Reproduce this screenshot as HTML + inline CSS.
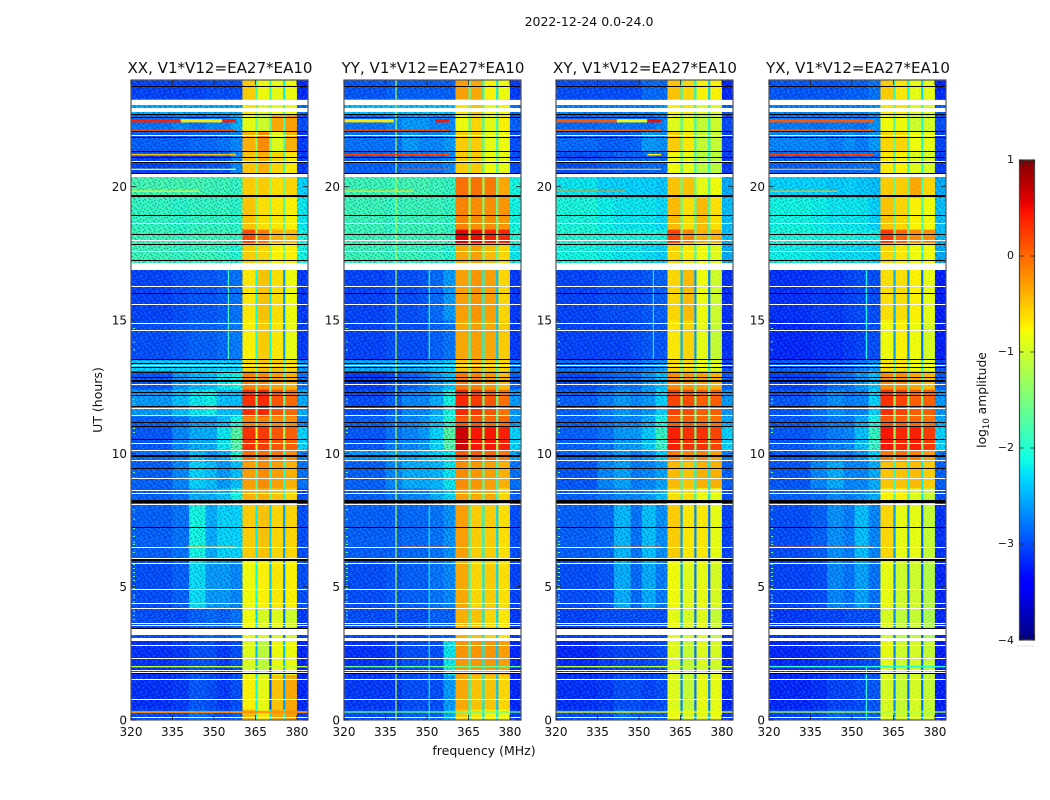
<!DOCTYPE html>
<html>
<head>
<meta charset="utf-8">
<title>2022-12-24 0.0-24.0</title>
<style>
html,body{margin:0;padding:0;background:#fff;}
svg{display:block;}
text{font-family:"DejaVu Sans","Liberation Sans",sans-serif;fill:#111;}
</style>
</head>
<body>
<svg id="fig" xmlns="http://www.w3.org/2000/svg" width="1050" height="800" viewBox="0 0 1050 800">
<defs>
<pattern id="speckle" width="11" height="11" patternUnits="userSpaceOnUse" patternTransform="scale(1.4)">
<path fill="#00004a" opacity=".38" d="M0 0h1v1h-1zM3 0h1v1h-1zM7 1h1v1h-1zM9 1h1v1h-1zM1 2h1v1h-1zM5 2h1v1h-1zM10 3h1v1h-1zM3 3h1v1h-1zM6 4h1v1h-1zM0 4h1v1h-1zM8 5h1v1h-1zM2 5h1v1h-1zM4 6h1v1h-1zM9 6h1v1h-1zM1 7h1v1h-1zM6 7h1v1h-1zM3 8h1v1h-1zM10 8h1v1h-1zM7 9h1v1h-1zM0 9h1v1h-1zM4 10h1v1h-1zM8 10h1v1h-1z"/>
<path fill="#40b0ff" opacity=".32" d="M1 0h1v1h-1zM5 0h1v1h-1zM9 0h1v1h-1zM3 1h1v1h-1zM7 3h1v1h-1zM0 2h1v1h-1zM8 2h1v1h-1zM4 3h1v1h-1zM2 4h1v1h-1zM9 4h1v1h-1zM5 5h1v1h-1zM0 6h1v1h-1zM7 6h1v1h-1zM3 7h1v1h-1zM10 6h1v1h-1zM8 8h1v1h-1zM1 9h1v1h-1zM5 9h1v1h-1zM2 10h1v1h-1zM10 10h1v1h-1z"/>
</pattern>
<linearGradient id="jetGrad" x1="0" y1="1" x2="0" y2="0"></linearGradient>
</defs>
<text x="589" y="26" font-size="12.5" text-anchor="middle">2022-12-24 0.0-24.0</text>
<text x="484" y="755" font-size="12.5" text-anchor="middle">frequency (MHz)</text>
<text x="0" y="0" font-size="12.5" text-anchor="middle" transform="translate(102,400) rotate(-90)">UT (hours)</text>
<g id="panels"></g>
<g id="cbar"></g>
</svg>
<script>
// ---- axis data ----
const panelTitles = ["XX, V1*V12=EA27*EA10","YY, V1*V12=EA27*EA10","XY, V1*V12=EA27*EA10","YX, V1*V12=EA27*EA10"];
const freqTicks = [320,335,350,365,380];
const hourTicks = [0,5,10,15,20];
const colorTicks = [1,0,-1,-2,-3,-4];
const freqEdges = [320,335,341,347,351,356,360.3,365,365.8,370,370.8,375,375.8,380,384];
const hourEdges = [0,.4,1.7,3,4.2,6,8.1,8.7,9.7,10.1,11,11.4,12.4,13.1,13.5,15,16.9,17.9,18.4,19.6,20.4,21.3,22.1,22.7,23.3,24];

// ---- log10 amplitude per time band (rows) and frequency band (columns) ----
const ampXX = [
[-3,-3,-2.8,-2.9,-3,-2.9,-.45,-1.9,-.7,-2.2,-.35,-2,-.3,-3.1],
[-3.15,-3.1,-2.95,-3,-3.1,-3,-.75,-2.1,-.85,-3,-.5,-2.6,-.35,-3.2],
[-3.15,-3.1,-3,-3,-3.1,-3,-.9,-2.4,-1.1,-3,-.8,-2.4,-.8,-3.2],
[-3,-3,-2.9,-2.85,-2.9,-2.8,-.8,-2.3,-.95,-2.8,-.9,-2.8,-1,-3.1],
[-3,-2.9,-2.25,-2.6,-2.6,-2.7,-.8,-2.1,-.75,-2.4,-.7,-2.7,-.75,-3],
[-2.9,-2.8,-2.1,-2.5,-2.3,-2.3,-.55,-2.2,-.5,-2.3,-.6,-2.6,-.6,-3],
[-2.9,-2.8,-2.5,-2.5,-2.4,-2.1,-.4,-1.5,-.4,-1.6,-.5,-2,-.6,-3],
[-2.9,-2.7,-2.3,-2.4,-2.6,-2.4,-.3,-1.7,-.2,-2,-.3,-2,-.4,-2.8],
[-2.8,-2.7,-2.4,-2.6,-2.5,-2,-.05,-1.7,-.05,-1.8,-.1,-2,-.2,-2.7],
[-2.95,-2.7,-2.5,-2.5,-2.2,-1.7,.3,-1,.25,-1.5,.1,-1.3,.05,-2.3],
[-2.9,-2.8,-2.6,-2.6,-2.4,-2.1,-.15,-1.5,-.15,-1.7,-.2,-1.8,-.2,-2.7],
[-2.6,-2.4,-2.2,-2.15,-2.4,-2.4,.3,-1.5,.35,-1.6,.1,-1.7,0,-2.5],
[-2.95,-2.6,-2.45,-2.4,-2.2,-2.1,-.15,-1.6,-.2,-1.8,-.3,-1.9,-.4,-2.8],
[-2.3,-2.3,-2.3,-2.3,-2.3,-2.3,-.6,-1.6,-.5,-1.6,-.5,-1.8,-.6,-2.6],
[-3,-2.95,-2.9,-2.9,-2.85,-2.75,-.75,-2,-.55,-2.1,-.7,-2.6,-.85,-3.1],
[-3.05,-3,-2.95,-2.95,-2.9,-2.8,-.7,-2.1,-.5,-2.2,-.65,-2.6,-.8,-3.1],
[-1.85,-1.9,-1.85,-1.85,-1.9,-2,-.55,-1.5,-.6,-1.5,-.75,-1.6,-.75,-2.1],
[-1.85,-1.9,-1.85,-1.85,-1.85,-1.9,.15,-1.2,-.1,-1.3,-.4,-1.5,-.45,-2.1],
[-1.9,-1.95,-1.9,-1.9,-1.9,-1.95,-.5,-1.4,-.65,-1.5,-.7,-1.7,-.75,-2.2],
[-1.8,-1.8,-1.8,-1.85,-1.85,-1.9,-.55,-1.3,-.55,-1.4,-.65,-1.6,-.6,-2.3],
[-3.05,-3,-3,-2.95,-2.95,-2.7,-.5,-1.5,-.4,-1.6,-.6,-1.8,-.7,-3.1],
[-2.9,-2.9,-2.85,-2.85,-2.8,-2.7,-.4,-1.3,-.2,-1.5,-.9,-1.8,-.4,-3.1],
[-2.8,-2.7,-2.8,-2.7,-2.7,-2.5,-.85,-1.6,-1,-1.7,-.35,-1.8,-.3,-3],
[-2.5,-2.5,-2.5,-2.5,-2.5,-2.5,-.7,-1.5,-.9,-1.6,-.8,-1.8,-.8,-2.8],
[-3.05,-3.05,-3.05,-3,-3,-3,-.55,-1.8,-.8,-1.9,-.85,-2.2,-.8,-3.2]
];
const ampYY = [
[-3,-3,-2.9,-2.9,-2.9,-2.5,-.55,-2,-.7,-2.2,-.75,-2.2,-.8,-3.1],
[-3.1,-3.1,-3,-3,-3,-2.6,-.35,-2,-.5,-2.2,-.5,-2.4,-.6,-3.2],
[-3.15,-3.1,-3,-3,-3,-2.2,-.25,-2,-.25,-2.2,-.25,-2.4,-.3,-3.2],
[-3,-3,-3,-3,-2.9,-2.9,-.4,-2,-.5,-2.2,-.6,-2.3,-.7,-3.1],
[-3,-2.95,-2.9,-2.9,-2.8,-2.7,-.35,-1.9,-.6,-2.2,-.55,-2.3,-.65,-3.05],
[-2.9,-2.9,-2.85,-2.85,-2.8,-2.65,-.3,-1.9,-.55,-2.1,-.55,-2.3,-.65,-3],
[-2.9,-2.8,-2.7,-2.7,-2.5,-2.3,-.3,-1.6,-.35,-1.7,-.35,-2,-.6,-2.9],
[-2.9,-2.7,-2.5,-2.5,-2.45,-2.2,-.2,-1.6,-.25,-1.7,-.3,-1.9,-.4,-2.8],
[-2.6,-2.5,-2.5,-2.4,-2.3,-2.2,.05,-1.5,.05,-1.6,0,-1.7,-.1,-2.5],
[-2.95,-2.8,-2.7,-2.6,-2.3,-1.7,.65,-1.1,.45,-1.3,.45,-1.3,.4,-2.3],
[-2.9,-2.8,-2.7,-2.6,-2.4,-2,.1,-1.5,.1,-1.6,0,-1.7,0,-2.6],
[-3,-2.9,-2.7,-2.7,-2.5,-2.1,.35,-1.3,.25,-1.5,.1,-1.6,-.05,-2.6],
[-3.1,-3,-2.9,-2.8,-2.6,-2.4,-.1,-1.6,-.15,-1.7,-.25,-1.9,-.45,-2.9],
[-2.5,-2.5,-2.5,-2.5,-2.4,-2.3,-.5,-1.5,-.4,-1.6,-.5,-1.8,-.6,-2.7],
[-3.05,-3,-3,-3,-2.9,-2.8,-.35,-1.9,-.3,-2.1,-.35,-2.4,-.55,-3.1],
[-3.05,-3,-3,-2.95,-2.85,-2.6,-.3,-1.9,-.25,-2.1,-.3,-2.4,-.6,-3.1],
[-1.85,-1.9,-1.85,-1.9,-1.9,-2,-.35,-1.5,-.3,-1.5,-.45,-1.7,-.6,-2.2],
[-1.85,-1.9,-1.85,-1.85,-1.85,-1.9,.55,-1.1,.5,-1.2,.4,-1.4,.35,-2],
[-1.85,-1.9,-1.85,-1.85,-1.85,-1.9,-.15,-1.3,-.2,-1.4,-.2,-1.6,-.25,-2.1],
[-1.85,-1.85,-1.8,-1.8,-1.85,-1.9,-.05,-1.3,-.05,-1.3,-.1,-1.6,-.35,-2.1],
[-2.9,-2.9,-2.8,-2.8,-2.8,-2.7,-.55,-1.5,-.55,-1.6,-.8,-1.8,-.85,-3],
[-2.8,-2.8,-2.6,-2.7,-2.7,-2.6,-.55,-1.5,-.55,-1.7,-.85,-1.9,-.8,-3],
[-2.8,-2.7,-2.6,-2.6,-2.7,-2.7,-.8,-1.7,-.6,-1.8,-.85,-1.9,-.75,-2.9],
[-2.4,-2.4,-2.4,-2.4,-2.4,-2.4,-.7,-1.6,-.5,-1.6,-.8,-1.8,-.8,-2.8],
[-2.95,-2.9,-2.9,-2.9,-2.9,-2.9,-.3,-1.7,-.35,-1.9,-.75,-2.2,-.8,-3.1]
];
const ampXY = [
[-3,-3,-2.8,-2.9,-2.9,-2.9,-.85,-2.6,-.95,-2.6,-.9,-2.5,-.85,-3.1],
[-3.15,-3.1,-3,-3,-3.05,-3,-.9,-2.7,-1.05,-2.8,-.85,-2.7,-.85,-3.2],
[-3.2,-3.1,-3.05,-3.05,-3.05,-3,-.9,-2.7,-1.05,-2.8,-.9,-2.9,-.95,-3.2],
[-3.05,-3,-3,-3,-3,-3,-.85,-2.5,-.95,-2.8,-.9,-2.9,-1.05,-3.1],
[-3,-2.95,-2.5,-2.85,-2.5,-2.75,-.8,-2.6,-.9,-2.8,-.85,-2.9,-.95,-3.1],
[-2.9,-2.85,-2.45,-2.8,-2.4,-2.65,-.55,-2.6,-.7,-2.7,-.7,-2.8,-.85,-3.05],
[-2.9,-2.8,-2.7,-2.7,-2.6,-2.4,-.65,-1.8,-.65,-1.9,-.8,-2.2,-.85,-3],
[-2.95,-2.7,-2.55,-2.75,-2.7,-2.55,-.45,-1.9,-.5,-2.1,-.4,-2.2,-.4,-2.9],
[-2.85,-2.75,-2.6,-2.75,-2.6,-2.3,-.1,-1.6,-.15,-1.8,-.15,-1.9,-.3,-2.7],
[-2.9,-2.8,-2.6,-2.6,-2.35,-1.9,.4,-1.3,.3,-1.5,.3,-1.5,.2,-2.3],
[-2.9,-2.8,-2.7,-2.7,-2.5,-2.1,.05,-1.5,.05,-1.6,0,-1.7,-.05,-2.5],
[-2.9,-2.75,-2.6,-2.7,-2.6,-2.3,.2,-1.4,.15,-1.5,.05,-1.6,.05,-2.6],
[-3,-2.9,-2.8,-2.8,-2.6,-2.4,-.2,-1.6,-.25,-1.8,-.3,-1.9,-.4,-2.9],
[-2.8,-2.8,-2.8,-2.8,-2.7,-2.6,-.6,-1.7,-.6,-1.8,-.8,-2,-.9,-3],
[-3.05,-3.05,-3.05,-3,-2.95,-2.95,-.7,-2.5,-.6,-2.6,-.85,-2.8,-1.05,-3.15],
[-3.05,-3,-3,-3,-2.95,-2.9,-.6,-2.4,-.45,-2.6,-.8,-2.7,-1,-3.15],
[-2.1,-2.15,-2.2,-2.2,-2.25,-2.3,-.6,-1.7,-.7,-1.8,-.8,-2,-.9,-2.5],
[-2,-2.05,-2.05,-2.05,-2.1,-2.1,.2,-1.5,-.15,-1.6,-.4,-1.7,-.4,-2.4],
[-2.05,-2.15,-2.2,-2.2,-2.2,-2.25,-.45,-1.6,-.65,-1.7,-.45,-1.8,-.65,-2.4],
[-2.2,-2.3,-2.3,-2.3,-2.3,-2.35,-.5,-1.6,-.5,-1.6,-.85,-1.8,-.8,-2.5],
[-3,-2.95,-2.9,-2.9,-2.85,-2.85,-.8,-1.8,-.85,-1.9,-1.1,-2,-1.1,-3.1],
[-2.85,-2.9,-2.9,-2.85,-2.6,-2.65,-.55,-1.6,-.7,-1.8,-1.05,-2,-1.05,-3.05],
[-2.85,-2.8,-2.8,-2.8,-2.8,-2.7,-.9,-1.8,-.85,-1.9,-1.05,-2,-1,-3],
[-2.7,-2.7,-2.7,-2.7,-2.7,-2.6,-.75,-1.7,-.7,-1.8,-.9,-2,-.9,-2.9],
[-3,-3,-3,-3,-2.85,-2.85,-.5,-1.9,-.6,-2.1,-.75,-2.3,-.75,-3.2]
];
const ampYX = [
[-3.05,-3,-2.85,-2.9,-2.9,-2.9,-.95,-2.6,-1,-2.7,-.95,-2.6,-1.05,-3.2],
[-3.2,-3.15,-3.05,-3.05,-3,-2.95,-.95,-2.7,-1.05,-2.8,-.95,-2.8,-1.05,-3.25],
[-3.2,-3.15,-3.1,-3.1,-3.05,-3,-.85,-2.7,-1,-2.8,-.95,-2.8,-1.05,-3.25],
[-3.1,-3.05,-3.05,-3,-3,-3,-.95,-2.7,-1.1,-2.8,-1.05,-2.9,-1.2,-3.2],
[-3.05,-3,-2.7,-2.8,-2.55,-2.8,-.85,-2.7,-1,-2.8,-1,-2.9,-1.15,-3.2],
[-3,-2.9,-2.65,-2.75,-2.4,-2.7,-.6,-2.6,-.85,-2.7,-.85,-2.9,-1.05,-3.15],
[-2.9,-2.85,-2.7,-2.75,-2.65,-2.5,-.75,-1.8,-.75,-1.9,-.9,-2.2,-1.05,-3],
[-2.95,-2.7,-2.5,-2.7,-2.7,-2.5,-.5,-1.9,-.5,-2.1,-.45,-2.2,-.55,-2.9],
[-2.9,-2.8,-2.7,-2.75,-2.6,-2.3,-.1,-1.6,-.05,-1.8,-.15,-1.9,-.3,-2.7],
[-2.95,-2.85,-2.75,-2.7,-2.4,-1.9,.45,-1.3,.35,-1.5,.4,-1.5,.25,-2.3],
[-2.95,-2.85,-2.75,-2.75,-2.5,-2.1,.1,-1.5,.05,-1.6,0,-1.7,-.05,-2.5],
[-2.95,-2.8,-2.65,-2.75,-2.7,-2.3,.3,-1.3,.2,-1.5,.05,-1.6,.05,-2.6],
[-3.05,-3,-2.85,-2.8,-2.6,-2.4,-.2,-1.6,-.2,-1.8,-.35,-1.9,-.45,-2.9],
[-2.9,-2.9,-2.9,-2.85,-2.75,-2.6,-.65,-1.7,-.65,-1.8,-.8,-2,-.85,-3],
[-3.2,-3.15,-3.15,-3.1,-3.05,-3,-.8,-2.6,-.75,-2.7,-.8,-2.8,-.95,-3.25],
[-3.15,-3.1,-3.1,-3.05,-3,-3,-.65,-2.5,-.65,-2.6,-.75,-2.8,-.85,-3.25],
[-2.15,-2.2,-2.25,-2.25,-2.25,-2.3,-.6,-1.7,-.7,-1.8,-.8,-2,-.8,-2.5],
[-2.05,-2.1,-2.1,-2.1,-2.15,-2.15,.25,-1.5,0,-1.6,-.2,-1.7,-.2,-2.4],
[-2.1,-2.15,-2.2,-2.2,-2.2,-2.3,-.5,-1.6,-.6,-1.7,-.75,-1.8,-.8,-2.4],
[-2.3,-2.3,-2.35,-2.3,-2.35,-2.4,-.55,-1.6,-.55,-1.6,-.35,-1.8,-.6,-2.5],
[-2.9,-2.9,-2.85,-2.85,-2.8,-2.8,-.7,-1.8,-.75,-1.9,-.9,-2,-.95,-3.1],
[-2.7,-2.7,-2.75,-2.65,-2.75,-2.6,-.6,-1.6,-.6,-1.8,-.8,-2,-.85,-3.05],
[-2.75,-2.8,-2.75,-2.75,-2.8,-2.65,-.8,-1.7,-.8,-1.9,-1,-2,-.95,-3],
[-2.7,-2.7,-2.7,-2.7,-2.7,-2.6,-.7,-1.7,-.7,-1.8,-.9,-2,-.9,-2.9],
[-2.95,-2.95,-2.95,-2.9,-2.9,-2.8,-.55,-1.9,-.7,-2.1,-.85,-2.3,-.85,-3.2]
];
const amplitudes = [ampXX, ampYY, ampXY, ampYX];

// ---- flagged time rows: hour, thickness in hours ----
const whiteRows = [[23.16,.19],[22.88,.15],[21.9,.04],[20.94,.04],[20.42,.1],[18.6,.04],[17.97,.04],[17.55,.04],[17,.25],[16.26,.04],[15.59,.04],[14.87,.04],[14.61,.04],[13.28,.04],[13.02,.04],[12.59,.04],[11.69,.04],[11.4,.04],[10.35,.04],[10.1,.04],[9.72,.04],[9.05,.04],[8.6,.04],[8.5,.04],[8.09,.04],[6.48,.04],[6.06,.04],[5.88,.04],[4.88,.04],[4.38,.04],[4.17,.04],[3.63,.04],[3.53,.04],[3.3,.21],[3.01,.1],[2.78,.04],[2.31,.04],[1.85,.04],[1.77,.04],[1.53,.04],[.78,.04],[.1,.04]];
const blackRows = [[22.7,.04],[22.59,.04],[22.05,.04],[21.85,.04],[21.33,.04],[21.1,.04],[20.91,.04],[20.5,.04],[19.66,.08],[18.9,.04],[18.21,.04],[17.82,.04],[17.22,.04],[16,.04],[13.53,.04],[13.38,.04],[13.22,.04],[13.02,.04],[12.86,.04],[12.72,.08],[12.27,.04],[12.15,.04],[11.77,.04],[11.15,.04],[11,.04],[10.53,.04],[9.91,.08],[9.44,.04],[8.19,.12],[7.23,.04],[6,.08],[3.44,.04],[1.73,.04],[23.75,.04]];

// ---- narrow-band interference: hour, thickness, start MHz, end MHz, log10 amplitude ----
const rfiXX = [[22.47,.12,320,338,.4],[22.47,.12,338,353,-.7],[22.47,.12,353,358,.45],[22.11,.06,320,358,.2],[21.2,.06,320,358,-.5],[20.65,.05,320,358,-.9],[19.83,.05,320,345,-.9],[8.6,.05,353,358,.4],[6.48,.05,340,358,-.4],[2,.05,320,384,-1.1],[.3,.07,320,384,-.2]];
const rfiYY = [[22.47,.12,320,338,-.7],[22.47,.12,353,358,.45],[22.11,.06,320,358,.2],[21.2,.06,320,358,.2],[20.65,.05,340,358,.2],[19.83,.05,320,345,-.6],[6.48,.05,340,358,.1],[2,.05,320,384,-1.6],[.3,.05,320,384,-1.6]];
const rfiXY = [[22.47,.12,320,342,.1],[22.47,.12,342,353,-.8],[22.47,.12,353,358,.5],[22.11,.06,320,358,.1],[21.2,.06,353,358,-.7],[20.65,.05,320,358,-.4],[19.83,.05,320,345,-.2],[6.48,.05,340,358,.1],[2,.05,320,384,-1.1],[.3,.05,320,384,-.8]];
const rfiYX = [[22.47,.12,320,358,.1],[22.11,.06,320,358,.05],[21.2,.06,320,358,.2],[20.65,.05,320,358,-.3],[19.83,.05,320,345,-.4],[6.48,.05,320,358,.1],[2,.05,320,384,-2],[.3,.05,320,384,-1.2]];
const rfiRows = [rfiXX, rfiYY, rfiXY, rfiYX];

// ---- persistent vertical interference: MHz, start hour, end hour, log10 amplitude ----
const vertXX = [[355,13.5,17,-1.9]];
const vertYY = [[338.6,0,24,-1.2],[350.6,0,8,-2.2],[350.6,13.5,17,-2.0]];
const vertXY = [[355,13.5,17,-2.2]];
const vertYX = [[355,13.5,17,-2.1],[355,0,2,-2.0]];
const vertLines = [vertXX, vertYY, vertXY, vertYX];

// ---- bright samples in the lowest channels: hour ----
const edgeHours = [14.7,14.2,13.9,12.05,11.9,11.7,10.95,10.8,9.3,9.1,7.9,7.55,7.2,6.9,6.7,6.6,6.3,5.85,5.7,5.55,5.4,5.25,5.05,4.95,4.7,4.6,4.45,4.1,3.95,3.8];
const edgeValue = -1.5;

// ---- colormap (jet) breakpoints: position, red, green, blue ----
const jetPos = [0,.11,.125,.34,.375,.64,.65,.89,.91,1];
const jetR = [0,0,0,0,.05,.95,1,1,.91,.5];
const jetG = [0,0,0,.86,1,1,.96,.08,0,0];
const jetB = [.5,1,1,1,.9,.03,0,0,0,0];

const colorMin = -4, colorMax = 1;
const panelLefts = [131,344,556,769];
const panelWidth = 177, panelTop = 80, panelBottom = 720;
const freqMin = 320, freqMax = 384, hourMin = 0, hourMax = 24;
const NS = 'http://www.w3.org/2000/svg';

function xScale(f, left){ return left + (f - freqMin) / (freqMax - freqMin) * panelWidth; }
function yScale(h){ return panelBottom - (h - hourMin) / (hourMax - hourMin) * (panelBottom - panelTop); }
function jet(v){
  const t = Math.min(1, Math.max(0, (v - colorMin) / (colorMax - colorMin)));
  let i = 0;
  while (i < jetPos.length - 2 && t > jetPos[i + 1]) i++;
  const u = (t - jetPos[i]) / (jetPos[i + 1] - jetPos[i]);
  const c = a => Math.round(255 * (a[i] + (a[i + 1] - a[i]) * u));
  return 'rgb(' + c(jetR) + ',' + c(jetG) + ',' + c(jetB) + ')';
}
function mk(parent, tag, attrs, txt){
  const e = document.createElementNS(NS, tag);
  for (const k in attrs) e.setAttribute(k, attrs[k]);
  if (txt !== undefined) e.textContent = txt;
  parent.appendChild(e);
  return e;
}
function rowRect(g, d, left, fill){
  const top = Math.round(yScale(d[0] + d[1] / 2));
  const h = Math.max(1, Math.round(yScale(d[0] - d[1] / 2) - yScale(d[0] + d[1] / 2)));
  return mk(g, 'rect', {x: left, y: top, width: panelWidth, height: h, fill: fill, 'shape-rendering': 'crispEdges'});
}

const panelsG = document.getElementById('panels');
panelTitles.forEach((title, p) => {
  const left = panelLefts[p];
  const g = mk(panelsG, 'g', {});
  
  

  const t = mk(g, 'text', {x: left + panelWidth / 2 + 0.5, y: 73, 'font-size': 15.05, 'text-anchor': 'middle'}, title);
  
  

  // heatmap cells
  amplitudes[p].forEach((row, r) => {
    row.forEach((v, c) => {
      const x0 = xScale(freqEdges[c], left), x1 = xScale(freqEdges[c + 1], left);
      const y0 = yScale(hourEdges[r + 1]), y1 = yScale(hourEdges[r]);
      const cell = mk(g, 'rect', {x: x0, y: y0, width: x1 - x0 + .3, height: y1 - y0 + .3, fill: jet(v)});
      
      
    });
  });
  // channel noise texture
  const texL = mk(g, 'rect', {x: left, y: panelTop, width: xScale(360.3, 0), height: panelBottom - panelTop, fill: 'url(#speckle)'});
  texL.setAttribute('width', xScale(360.3, left) - left);
  
  
  const texR = mk(g, 'rect', {x: xScale(380, left), y: panelTop, width: xScale(384, left) - xScale(380, left), height: panelBottom - panelTop, fill: 'url(#speckle)'});
  
  
  const texM = mk(g, 'rect', {x: xScale(360.3, left), y: panelTop, width: xScale(380, left) - xScale(360.3, left), height: panelBottom - panelTop, fill: 'url(#speckle)', opacity: .22});
  
  

  // vertical interference lines
  vertLines[p].forEach(d => {
    const line = mk(g, 'rect', {x: xScale(d[0], left), y: yScale(d[2]), width: 1.2, height: yScale(d[1]) - yScale(d[2]), fill: jet(d[3])});
    
    
  });
  // narrow-band rows
  rfiRows[p].forEach(d => {
    const x0 = xScale(d[2], left), x1 = xScale(d[3], left);
    const line = mk(g, 'rect', {x: x0, y: yScale(d[0] + d[1] / 2), width: x1 - x0, height: Math.max(1, yScale(d[0]) - yScale(d[0] + d[1])), fill: jet(d[4])});
    
    
  });
  edgeHours.forEach(h => {
    const dot = mk(g, 'rect', {x: xScale(320.7, left), y: yScale(h), width: 2, height: 1, fill: jet(edgeValue)});
    
    
  });
  // flags
  whiteRows.forEach(d => {
    const line = rowRect(g, d, left, '#fff');
    
    
  });
  blackRows.forEach(d => {
    const line = rowRect(g, d, left, '#000');
    
    
  });

  // frame
  const frame = mk(g, 'rect', {x: left, y: panelTop, width: panelWidth, height: panelBottom - panelTop, fill: 'none', stroke: '#555', 'stroke-width': 1.2});
  
  

  // ticks
  freqTicks.forEach(f => {
    const x = xScale(f, left);
    const b = mk(g, 'line', {x1: x, x2: x, y1: panelBottom, y2: panelBottom - 5, stroke: '#222', 'stroke-width': .8});
    
    
    const tp = mk(g, 'line', {x1: x, x2: x, y1: panelTop, y2: panelTop + 5, stroke: '#222', 'stroke-width': .8});
    
    
    const lab = mk(g, 'text', {x: x, y: panelBottom + 16, 'font-size': 12, 'text-anchor': 'middle'}, f);
    
    
  });
  hourTicks.forEach(h => {
    const y = yScale(h);
    const a = mk(g, 'line', {x1: left, x2: left + 5, y1: y, y2: y, stroke: '#222', 'stroke-width': .8});
    
    
    const b = mk(g, 'line', {x1: left + panelWidth, x2: left + panelWidth - 5, y1: y, y2: y, stroke: '#222', 'stroke-width': .8});
    
    
    const lab = mk(g, 'text', {x: left - 4, y: y + 4.5, 'font-size': 12, 'text-anchor': 'end'}, h);
    
    
  });
});

// ---- colorbar ----
const grad = document.getElementById('jetGrad');
jetPos.forEach((pos, i) => {
  mk(grad, 'stop', {offset: pos, 'stop-color': 'rgb(' + Math.round(jetR[i] * 255) + ',' + Math.round(jetG[i] * 255) + ',' + Math.round(jetB[i] * 255) + ')'});
});
const cbar = document.getElementById('cbar');
const cbL = 1019.5, cbW = 15, cbT = 160, cbB = 640;
function cbY(v){ return cbB - (v - colorMin) / (colorMax - colorMin) * (cbB - cbT); }
const ramp = mk(cbar, 'rect', {x: cbL, y: cbT, width: cbW, height: cbB - cbT, fill: 'url(#jetGrad)', stroke: '#444', 'stroke-width': 1.2});


colorTicks.forEach(v => {
  const y = cbY(v);
  const a = mk(cbar, 'line', {x1: cbL, x2: cbL + 4, y1: y, y2: y, stroke: '#222', 'stroke-width': .8});
  
  
  const b = mk(cbar, 'line', {x1: cbL + cbW, x2: cbL + cbW - 4, y1: y, y2: y, stroke: '#222', 'stroke-width': .8});
  
  
  const lab = mk(cbar, 'text', {x: cbL - 5.5, y: y + (v === colorMin ? 4 : 3), 'font-size': 11, 'text-anchor': 'end'}, String(v).replace('-', '\u2212'));
  
  
});
[0,1,2,3,4,5].forEach(i => {
  const x = cbL + i * cbW / 5;
  const top = mk(cbar, 'line', {x1: x, x2: x, y1: cbT, y2: cbT + 5, stroke: '#222', 'stroke-width': .6});
  
  
  const bot = mk(cbar, 'line', {x1: x, x2: x, y1: cbB, y2: cbB - 5, stroke: '#222', 'stroke-width': .6});
  
  
  const dot = mk(cbar, 'rect', {x: x - 2, y: 645.5, width: 1, height: 1, fill: '#aaa'});
  
  
});
const cbLabel = mk(cbar, 'text', {'font-size': 12.3, 'text-anchor': 'middle', transform: 'translate(986,400) rotate(-90)'});


mk(cbLabel, 'tspan', {}, 'log');
mk(cbLabel, 'tspan', {'font-size': 8.5, dy: 3}, '10');
mk(cbLabel, 'tspan', {dy: -3}, ' amplitude');
</script>
</body>
</html>
